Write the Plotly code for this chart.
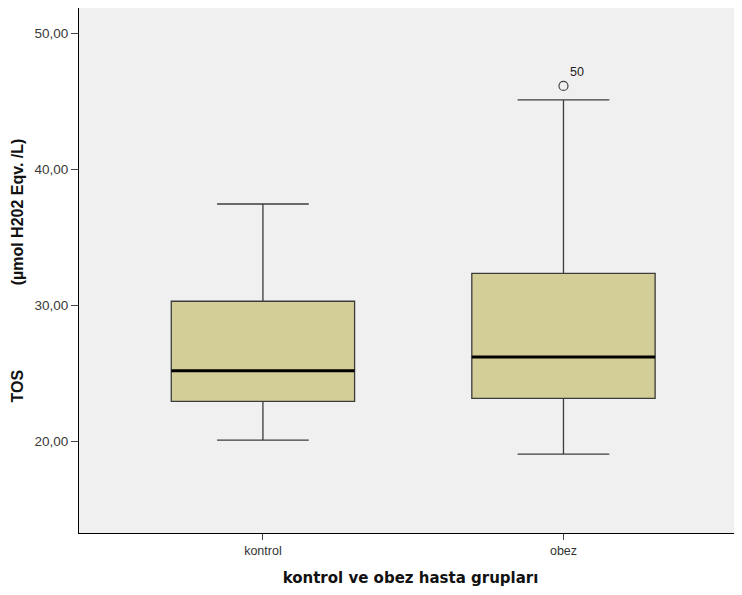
import plotly.graph_objects as go

# ---- data ----
groups = ["kontrol", "obez"]
lower_whisker = [20.07, 19.04]
q1 = [22.92, 23.14]
median = [25.18, 26.19]
q3 = [30.29, 32.35]
upper_whisker = [37.45, 45.11]

outlier_group = ["obez"]
outlier_value = [46.14]
outlier_label = ["50"]

y_ticks = [20, 30, 40, 50]
y_tick_labels = ["20,00", "30,00", "40,00", "50,00"]

x_title = "kontrol ve obez hasta grupları"
y_title = "TOS" + "\u00a0" * 19 + "(µmol H202 Eqv. /L)"

BOX_W = 0.61
fig = go.Figure()

# boxes with whiskers
fig.add_trace(go.Box(
    x=groups, q1=q1, median=median, q3=q3,
    lowerfence=lower_whisker, upperfence=upper_whisker,
    width=BOX_W, whiskerwidth=0.5,
    fillcolor="#D3CE98", line=dict(color="#3c3c3c", width=1.3),
    boxpoints=False, hoverinfo="skip", showlegend=False,
))

# heavy black median line (degenerate box at the median)
fig.add_trace(go.Box(
    x=groups, q1=median, median=median, q3=median,
    lowerfence=median, upperfence=median,
    width=BOX_W, whiskerwidth=0,
    fillcolor="rgba(0,0,0,0)", line=dict(color="#000000", width=3),
    boxpoints=False, hoverinfo="skip", showlegend=False,
))

# outlier
fig.add_trace(go.Scatter(
    x=outlier_group, y=outlier_value, mode="markers+text",
    text=outlier_label, textposition="top right",
    textfont=dict(family="Liberation Sans", size=12.5, color="#222222"),
    marker=dict(symbol="circle-open", size=9, color="#444444",
                line=dict(width=1.2, color="#444444")),
    hoverinfo="skip", showlegend=False,
))

# page body has an 8px margin, so the figure is shrunk by 8px each way
fig.update_layout(
    width=734, height=587,
    margin=dict(l=71, r=0, t=0, b=62),
    paper_bgcolor="white", plot_bgcolor="#F0F0F0",
    boxmode="overlay",
    font=dict(family="Liberation Sans", color="#333333"),
)

fig.update_xaxes(
    type="category", categoryorder="array", categoryarray=groups,
    range=[-0.612, 1.594],
    showline=True, linecolor="#000000", linewidth=1, mirror=True,
    ticks="outside", ticklen=6, tickcolor="#444444", tickwidth=1,
    tickfont=dict(family="Liberation Sans", size=12.5, color="#333333"),
    showgrid=False, zeroline=False,
    title=dict(text=x_title, standoff=15,
               font=dict(family="DejaVu Sans", size=15, color="#111111",
                         weight="bold")),
)

fig.update_yaxes(
    range=[13.23, 51.88],
    tickmode="array", tickvals=y_ticks, ticktext=y_tick_labels,
    showline=True, linecolor="#000000", linewidth=1, mirror=False,
    ticks="outside", ticklen=7, tickcolor="#444444", tickwidth=1,
    tickfont=dict(family="Liberation Sans", size=13.5, color="#3a3a3a"),
    showgrid=False, zeroline=False,
    title=dict(text=y_title, standoff=6,
               font=dict(family="Liberation Sans", size=16, color="#111111",
                         weight="bold")),
)

fig.write_html("out.html")
